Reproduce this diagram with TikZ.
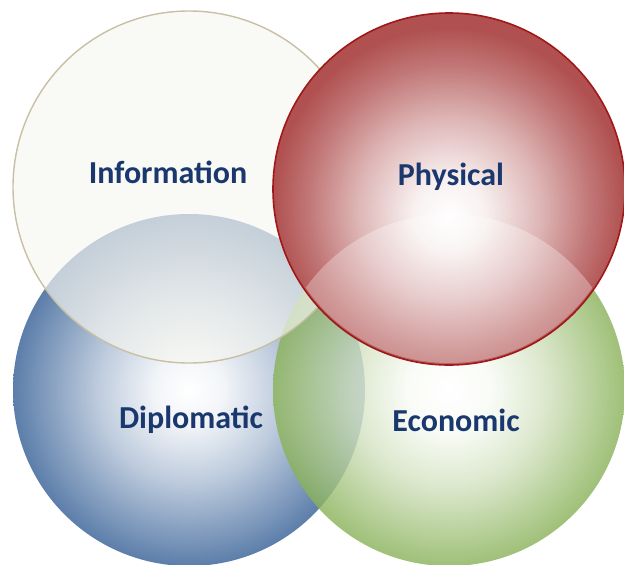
\documentclass[tikz,border=0pt]{standalone}
\usepackage{fontspec}
\setmainfont{Carlito}
\definecolor{infofill}{RGB}{246,246,240}
\definecolor{infoline}{RGB}{200,192,165}
\definecolor{physred}{RGB}{176,80,80}
\definecolor{physline}{RGB}{160,24,24}
\definecolor{diplblue}{RGB}{92,126,170}
\definecolor{econgreen}{RGB}{138,178,90}
\definecolor{labelblue}{RGB}{26,56,110}
\pgfdeclareradialshading{ballphys}{\pgfpoint{0bp}{-4bp}}{color(0bp)=(white); color(5bp)=(physred!8!white); color(13bp)=(physred!42!white); color(20bp)=(physred!78!white); color(25bp)=(physred); color(50bp)=(physred)}
\pgfdeclareradialshading{balldipl}{\pgfpoint{0bp}{0bp}}{color(0bp)=(white); color(5bp)=(diplblue!8!white); color(13bp)=(diplblue!40!white); color(20bp)=(diplblue!75!white); color(25bp)=(diplblue); color(50bp)=(diplblue)}
\pgfdeclareradialshading{ballecon}{\pgfpoint{0bp}{0bp}}{color(0bp)=(white); color(6bp)=(econgreen!6!white); color(14bp)=(econgreen!38!white); color(20bp)=(econgreen!72!white); color(25bp)=(econgreen); color(50bp)=(econgreen)}
\tikzset{
  ball/.style={circle, inner sep=0pt, minimum size=352pt},
  lbl/.style={font=\bfseries\fontsize{32}{32}\selectfont, text=labelblue, inner sep=0pt}
}
\begin{document}
\begin{tikzpicture}[x=1pt, y=-1pt]
  \useasboundingbox (0,0) rectangle (624,565);
  \begin{scope}
    \clip (0,0) rectangle (624,565);
    \node [ball, shading=balldipl] (dipl) at (189, 390) {};
    \node [ball, shading=ballecon, fill opacity=0.82] (econ) at (449, 390) {};
    \node [ball, fill=infofill, fill opacity=0.68, draw=infoline, line width=1.4pt] (info) at (189, 187) {};
    \node [ball, shading=ballphys, draw=physline, line width=1.6pt] (phys) at (449, 189) {};
    \begin{scope}
      \clip (phys.center) circle (174);
      \fill [white, fill opacity=0.3] (econ.center) circle (176);
    \end{scope}
  \end{scope}
  \node [lbl] (infotext) at (168, 172) {Information};
  \node [lbl] (phystext) at (451, 177) {Physical};
  \node [lbl] (dipltext) at (191, 420) {Diplomatic};
  \node [lbl] (econtext) at (456, 420) {Economic};
\end{tikzpicture}
\end{document}
